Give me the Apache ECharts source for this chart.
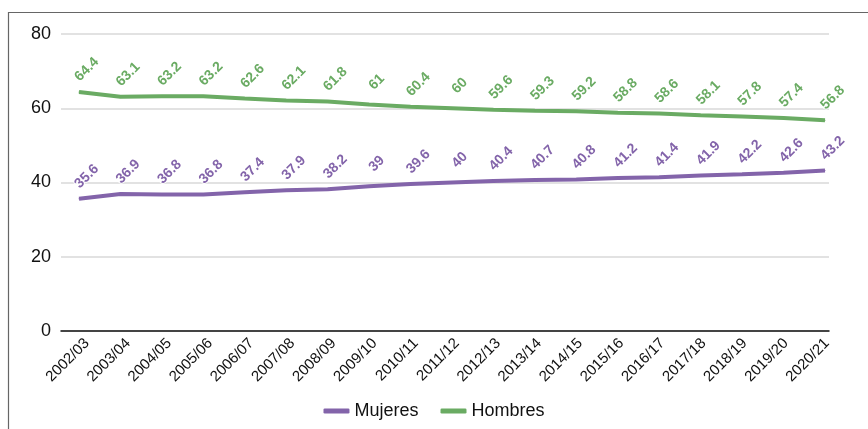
<!DOCTYPE html>
<html><head><meta charset="utf-8">
<script src="https://cdn.jsdelivr.net/npm/echarts@6/dist/echarts.min.js"></script>
<style>html,body{margin:0;padding:0;background:#fff}#c{width:868px;height:429px}</style>
</head><body><div id="c"></div>
<script>
const categories = ["2002/03","2003/04","2004/05","2005/06","2006/07","2007/08","2008/09","2009/10","2010/11","2011/12","2012/13","2013/14","2014/15","2015/16","2016/17","2017/18","2018/19","2019/20","2020/21"];
const mujeres = [35.6,36.9,36.8,36.8,37.4,37.9,38.2,39,39.6,40,40.4,40.7,40.8,41.2,41.4,41.9,42.2,42.6,43.2];
const hombres = [64.4,63.1,63.2,63.2,62.6,62.1,61.8,61,60.4,60,59.6,59.3,59.2,58.8,58.6,58.1,57.8,57.4,56.8];
const yTicks = [0,20,40,60,80];
const seriesNames = ["Mujeres","Hombres"];
const colors = ["#8364AA","#6AAB63"];

const chart = echarts.init(document.getElementById('c'), null, {renderer:'canvas'});
const font = '"Liberation Sans", Arial, Helvetica, sans-serif';
const lbl = (c) => ({
  show:true, position:'top', distance:0, rotate:45, align:'center', verticalAlign:'middle',
  offset:[21,-10], color:c, fontSize:14, fontWeight:'bold', fontFamily:font,
  textBorderColor:'#fff', textBorderWidth:2
});
chart.setOption({
  animation:false,
  graphic:[{type:'rect', shape:{x:8.5,y:12.5,width:900,height:500}, style:{fill:'none', stroke:'#666', lineWidth:1.2}, z:-10}],
  legend:{bottom:4, left:'center', itemWidth:26, itemHeight:5, itemGap:22,
    icon:'roundRect', textStyle:{fontSize:18, fontFamily:font, color:'#111'},
    data:seriesNames},
  grid:[
    {left:61, width:768, top:34, height:297},
    {left:79, width:746, top:34, height:297},
    {left:87, width:740, top:32, height:297}
  ],
  xAxis:[
    {gridIndex:0, type:'value', min:0, max:1, show:true, axisLine:{show:true, onZero:false, lineStyle:{color:'#111', width:1.5}},
      axisTick:{show:false}, axisLabel:{show:false}, splitLine:{show:false}},
    {gridIndex:1, type:'category', data:categories, boundaryGap:false,
      axisLine:{show:false}, axisTick:{show:false}, splitLine:{show:false}, axisLabel:{show:false}},
    {gridIndex:2, type:'category', data:categories, boundaryGap:false,
      axisLine:{show:false}, axisTick:{show:false}, splitLine:{show:false},
      axisLabel:{rotate:45, margin:12, fontSize:15, fontFamily:font, color:'#111', interval:0}}
  ],
  yAxis:[
    {gridIndex:0, type:'value', min:yTicks[0], max:yTicks[yTicks.length-1], interval:20,
      axisLine:{show:false}, axisTick:{show:false},
      axisLabel:{fontSize:18, fontFamily:font, color:'#111', margin:10},
      splitLine:{lineStyle:{color:'#d9d9d9', width:1.5}}},
    {gridIndex:1, type:'value', min:yTicks[0], max:yTicks[yTicks.length-1], interval:20, show:false, splitLine:{show:false}},
    {gridIndex:2, type:'value', min:yTicks[0], max:yTicks[yTicks.length-1], interval:20, show:false, splitLine:{show:false}}
  ],
  series:[
    {name:seriesNames[0], type:'line', xAxisIndex:1, yAxisIndex:1, data:mujeres, showSymbol:true, symbol:'circle', symbolSize:1,
      lineStyle:{color:colors[0], width:4}, itemStyle:{color:colors[0]}, label:lbl(colors[0])},
    {name:seriesNames[1], type:'line', xAxisIndex:1, yAxisIndex:1, data:hombres, showSymbol:true, symbol:'circle', symbolSize:1,
      lineStyle:{color:colors[1], width:4}, itemStyle:{color:colors[1]}, label:lbl(colors[1])}
  ]
});
</script></body></html>
